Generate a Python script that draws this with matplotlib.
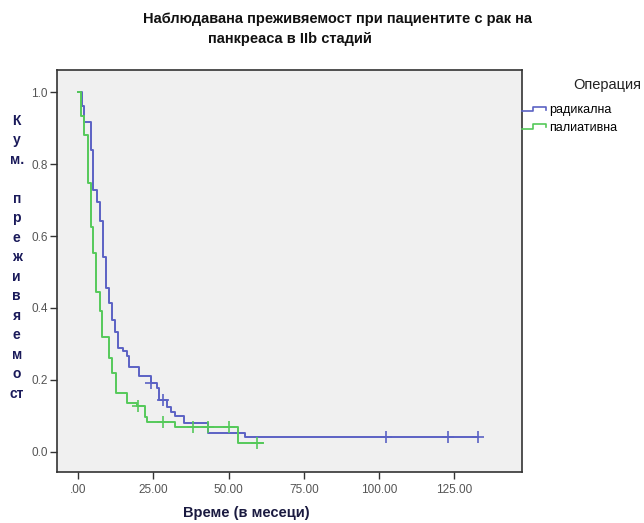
import matplotlib
matplotlib.use("Agg")
import matplotlib.pyplot as plt
import numpy as np
from matplotlib.lines import Line2D
from matplotlib.legend_handler import HandlerBase

plt.rcParams['font.family'] = ['Liberation Sans', 'DejaVu Sans']

# Kaplan-Meier steps (time in months, cumulative survival)
rad_t = [0, 1.1, 2.0, 4.1, 5.0, 6.1, 7.2, 8.2, 9.2, 10.2, 11.1, 12.2, 13.1, 15.0,
         16.1, 17.0, 20.2, 24.1, 26.1, 27.0, 29.5, 30.9, 32.2, 35.0, 43.0, 55.6]
rad_s = [1.0, 0.960, 0.916, 0.839, 0.729, 0.694, 0.641, 0.543, 0.455, 0.413, 0.367,
         0.334, 0.290, 0.281, 0.267, 0.235, 0.211, 0.191, 0.177, 0.144, 0.126, 0.112,
         0.101, 0.080, 0.054, 0.041]
rad_end = 133.0
rad_cens_t = [24.3, 28.3, 102.2, 123.0, 133.0]

pal_t = [0, 0.9, 2.0, 3.1, 4.1, 5.0, 5.9, 7.2, 8.0, 10.2, 11.1, 12.6, 16.1, 19.5,
         22.2, 23.0, 32.2, 53.2]
pal_s = [1.0, 0.933, 0.882, 0.746, 0.626, 0.552, 0.444, 0.393, 0.320, 0.260, 0.219,
         0.163, 0.137, 0.128, 0.098, 0.084, 0.069, 0.024]
pal_end = 61.5
pal_cens_t = [20.0, 28.1, 38.1, 43.0, 50.0, 59.4]

groups = ['радикална', 'палиативна']
colors = ['#5b62c4', '#55c95a']

xticks = [0, 25, 50, 75, 100, 125]
xticklabels = ['.00', '25.00', '50.00', '75.00', '100.00', '125.00']
yticks = [0.0, 0.2, 0.4, 0.6, 0.8, 1.0]

fig = plt.figure(figsize=(6.44, 5.23), dpi=100)
ax = fig.add_axes([0.0885, 0.098, 0.722, 0.768])
ax.set_facecolor('#f0f0f0')


def km_value(t, s, x):
    i = np.searchsorted(t, x, side='right') - 1
    return s[i]


handles = []
for t, s, end, cens, col, name in [(rad_t, rad_s, rad_end, rad_cens_t, colors[0], groups[0]),
                                    (pal_t, pal_s, pal_end, pal_cens_t, colors[1], groups[1])]:
    tt = np.array(t + [end])
    ss = np.array(s + [s[-1]])
    ln, = ax.plot(tt, ss, drawstyle='steps-post', color=col, lw=1.4, label=name)
    cy = [km_value(np.array(t), np.array(s), c) for c in cens]
    ax.plot(cens, cy, ls='none', marker='+', ms=8, mew=1.2, color=col)
    handles.append(ln)

ax.set_xlim(-7.1, 147.6)
ax.set_ylim(-0.055, 1.061)
ax.set_xticks(xticks)
ax.set_xticklabels(xticklabels)
ax.set_yticks(yticks)
ax.set_yticklabels(['%.1f' % v for v in yticks])
ax.tick_params(labelsize=8.5, labelcolor='#555555', color='#333333', length=5, width=1)
ax.tick_params(axis='y', pad=1.5)
for sp in ax.spines.values():
    sp.set_color('#333333')
    sp.set_linewidth(1.2)


class StepHandler(HandlerBase):
    def create_artists(self, legend, orig_handle, xdescent, ydescent, width, height,
                       fontsize, trans):
        x = np.array([0, 0.48, 0.48, 1, 1]) * width - xdescent
        y = np.array([0.2, 0.2, 0.75, 0.75, 0.4]) * height - ydescent
        return [Line2D(x, y, color=orig_handle.get_color(), lw=1.2, transform=trans)]


ax.legend(handles=handles, loc='upper left', bbox_to_anchor=(1.0, 0.915),
          frameon=False, borderaxespad=0, borderpad=0, handlelength=1.9,
          handletextpad=0.25, labelspacing=0.45, fontsize=9,
          handler_map={Line2D: StepHandler()})
fig.text(0.995, 0.8375, 'Операция', ha='right', va='center', fontsize=10.5,
         color='#222222')

fig.text(0.524, 0.964, 'Наблюдавана преживяемост при пациентите с рак на',
         ha='center', va='center', fontsize=10.5, fontweight='bold', color='#111111')
fig.text(0.450, 0.926, 'панкреаса в IIb стадий',
         ha='center', va='center', fontsize=10.5, fontweight='bold', color='#111111')

fig.text(0.382, 0.019, 'Време (в месеци)', ha='center', va='center', fontsize=10.5,
         fontweight='bold', color='#1a1a40')
fig.text(0.026, 0.508, 'К\nу\nм.\n\nп\nр\nе\nж\nи\nв\nя\nе\nм\nо\nст', ha='center',
         va='center', multialignment='center', fontsize=10, fontweight='bold',
         color='#1a1a5a', linespacing=1.5)

fig.savefig('out.png', dpi=100)
